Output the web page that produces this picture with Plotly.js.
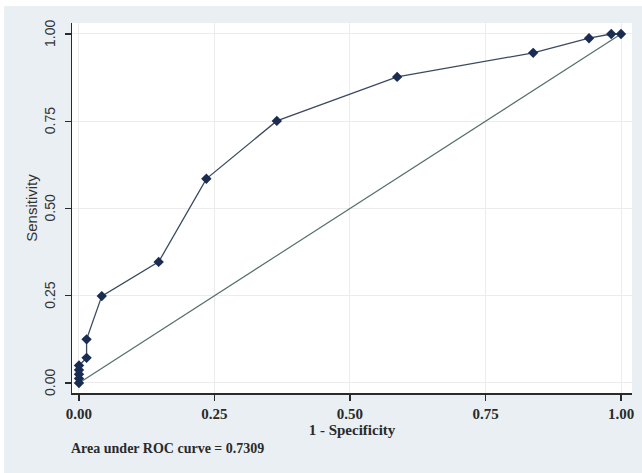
<!DOCTYPE html>
<html>
<head>
<meta charset="utf-8">
<script src="https://cdn.plot.ly/plotly-3.0.1.min.js"></script>
<style>
html,body{margin:0;padding:0;background:#ffffff;}
#chart{position:absolute;left:4px;top:6px;width:638px;height:467px;}
</style>
</head>
<body>
<div id="chart"></div>
<script>
// ROC curve points (1 - Specificity, Sensitivity)
var fpr = [0, 0, 0, 0, 0, 0.014, 0.014, 0.042, 0.147, 0.235, 0.365, 0.587, 0.838, 0.941, 0.982, 1.0];
var tpr = [0, 0.0125, 0.025, 0.0375, 0.05, 0.072, 0.125, 0.249, 0.347, 0.585, 0.751, 0.877, 0.946, 0.988, 1.0, 1.0];
// reference diagonal
var refX = [0, 1];
var refY = [0, 1];
var tickVals = [0, 0.25, 0.5, 0.75, 1];
var tickText = ["0.00", "0.25", "0.50", "0.75", "1.00"];
var aucText = "Area under ROC curve = 0.7309";

var traces = [
  {x: refX, y: refY, type: 'scatter', mode: 'lines',
   line: {color: '#56706a', width: 1.2}, hoverinfo: 'skip', showlegend: false},
  {x: fpr, y: tpr, type: 'scatter', mode: 'lines+markers',
   line: {color: '#3b4a5e', width: 1.3},
   marker: {symbol: 'diamond', size: 8, color: '#1b2c52'},
   showlegend: false}
];

var yTickAnn = tickVals.map(function (v, i) {
  return {text: tickText[i], xref: 'paper', yref: 'y', x: 0, y: v,
          xanchor: 'center', yanchor: 'middle', xshift: -22, textangle: -90,
          showarrow: false,
          font: {family: 'Liberation Sans, sans-serif', size: 14, color: '#333333'}};
});

var layout = {
  width: 638, height: 467,
  paper_bgcolor: '#e9eff2',
  plot_bgcolor: '#ffffff',
  margin: {l: 68, r: 10, t: 17, b: 80},
  showlegend: false,
  xaxis: {
    range: [-0.0129, 1.0203],
    tickvals: tickVals, ticktext: tickText,
    ticks: 'outside', ticklen: 6, tickwidth: 1.3, tickcolor: '#2a2a2a',
    showline: true, linecolor: '#2a2a2a', linewidth: 1.5,
    showgrid: true, gridcolor: '#ececec', gridwidth: 1,
    zeroline: false,
    tickfont: {family: 'Liberation Serif, serif', size: 15, color: '#2a2a2a', weight: 'bold'},
    title: {text: '1 - Specificity', standoff: 0,
            font: {family: 'Liberation Serif, serif', size: 15, color: '#2a2a2a', weight: 'bold'}}
  },
  yaxis: {
    range: [-0.0287, 1.0315],
    tickvals: tickVals, showticklabels: false,
    ticks: 'outside', ticklen: 6, tickwidth: 1.3, tickcolor: '#2a2a2a',
    showline: true, linecolor: '#2a2a2a', linewidth: 1.5,
    showgrid: true, gridcolor: '#ececec', gridwidth: 1,
    zeroline: false,
    title: {text: 'Sensitivity', standoff: 23,
            font: {family: 'Liberation Sans, sans-serif', size: 15, color: '#333333'}}
  },
  annotations: yTickAnn.concat([
    {text: aucText, xref: 'paper', yref: 'paper', x: 0, y: -0.151, xshift: -3,
     xanchor: 'left', yanchor: 'middle', showarrow: false,
     font: {family: 'Liberation Serif, serif', size: 14, color: '#2a2a2a', weight: 'bold'}}
  ])
};

Plotly.newPlot('chart', traces, layout, {displayModeBar: false, staticPlot: true});
</script>
</body>
</html>
